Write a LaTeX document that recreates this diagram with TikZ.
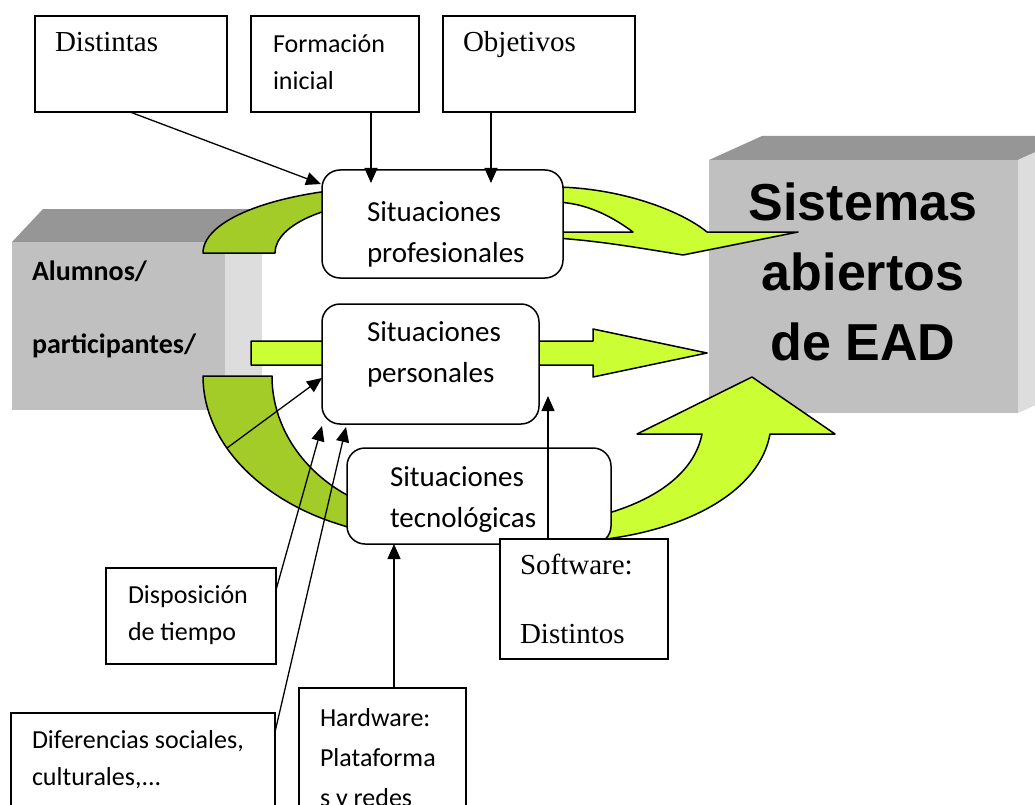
\documentclass[tikz,border=0pt]{standalone}
\usepackage{fontspec}
\setmainfont{Carlito}
\newfontfamily\serifface{Liberation Serif}
\newfontfamily\arialface{Liberation Sans}
\usetikzlibrary{arrows.meta}
\definecolor{limegreen}{HTML}{CCFF33}
\definecolor{olivegreen}{HTML}{A3CC29}
\definecolor{cubetop}{HTML}{969696}
\definecolor{cubefront}{HTML}{C0C0C0}
\definecolor{cubeside}{HTML}{DDDDDD}
\tikzstyle{box}=[draw, line width=1.5pt, fill=white, inner sep=0, outer sep=0, anchor=north west]
\tikzstyle{sitbox}=[box, rounded corners=18pt]
\tikzstyle{boxtext}=[anchor=base west, align=left, inner sep=0, outer sep=0]
\tikzstyle{smalltext}=[boxtext, font=\fontsize{26}{37}\selectfont]
\tikzstyle{sittext}=[boxtext, font=\fontsize{29}{41}\selectfont]
\tikzstyle{seriftext}=[boxtext, font=\serifface\fontsize{29}{69}\selectfont]
\tikzstyle{conn}=[-{Triangle[length=15pt,width=13pt]}, line width=1.3pt]
\tikzstyle{backarrow}=[fill=olivegreen, draw, line width=1.5pt, line join=round]
\tikzstyle{frontarrow}=[fill=limegreen, draw, line width=1.5pt, line join=round]
\newcommand{\boxnode}[5]{\node[#1, minimum width=#4pt, minimum height=#5pt] (#2) at (#3) {};}

\begin{document}
\begin{tikzpicture}[x=1pt, y=-1pt]
\useasboundingbox (0,0) rectangle (1035,805);

% cubes
\fill[cubetop] (12,242) -- (43,209) -- (262,209) -- (225,242) -- cycle;
\fill[cubefront] (12,242) rectangle (225,410);
\fill[cubeside] (225,242) -- (262,209) -- (262,377) -- (225,410) -- cycle;
\fill[cubetop] (709,160) -- (762,136) -- (1071,136) -- (1018,160) -- cycle;
\fill[cubefront] (709,160) rectangle (1018,413);
\fill[cubeside] (1018,160) -- (1071,136) -- (1071,389) -- (1018,413) -- cycle;

% curved arrows
\draw[backarrow] (203,253) .. controls (203,216) and (291,186.5) .. (400,186.5) -- (400,200.5) .. controls (331,200.5) and (275,224) .. (275,253) -- cycle;
\draw[frontarrow] (556,187) .. controls (620,188) and (680,210) .. (707,232) -- (798,232) -- (683,255) .. controls (640,248) and (600,241) .. (556,238) -- (556,232) -- (633,232) .. controls (610,215) and (585,203) .. (556,202) -- cycle;
\draw[frontarrow] (251,341) -- (593,341) -- (593,329) -- (707,353) -- (593,377) -- (593,365) -- (251,365) -- cycle;
\draw[backarrow] (203,376) -- (272,376) .. controls (272,453) and (343,516) .. (430,516) -- (430,538) .. controls (305,538) and (203,465) .. (203,376) -- cycle;
\draw[frontarrow] (598,516) .. controls (660,500) and (695,470) .. (702,434) -- (637,434) -- (752,377) -- (835,434) -- (770,434) .. controls (760,490) and (690,530) .. (598,540) -- cycle;

% boxes
\boxnode{box}{distintas}{35,16}{192}{96}
\boxnode{box}{formacion}{251,16}{168}{96}
\boxnode{box}{objetivos}{443,16}{192}{96}
\boxnode{sitbox}{prof}{322,170}{241}{108}
\boxnode{sitbox}{pers}{322,304}{217}{120}
\boxnode{sitbox}{tecno}{347,448}{264}{96}
\boxnode{box}{software}{500,539}{168}{120}
\boxnode{box}{disposicion}{106,568}{170}{96}
\boxnode{box}{diferencias}{11,713}{264}{120}
\boxnode{box}{hardware}{299,688}{167}{130}

% texts (base = last line)
\node[seriftext] (distintast) at (55,52) {Distintas};
\node[smalltext] (formaciont) at (273,90) {Formación\\inicial};
\node[seriftext] (objetivost) at (463,52) {Objetivos};
\node[sittext] (proft) at (367,262) {Situaciones\\profesionales};
\node[sittext] (perst) at (367,382) {Situaciones\\personales};
\node[sittext] (tecnot) at (390,527) {Situaciones\\tecnológicas};
\node[seriftext] (softwaret) at (520,643) {Software:\\Distintos};
\node[smalltext] (disposiciont) at (128,640) {Disposición\\de tiempo};
\node[smalltext] (diferenciast) at (32,785) {Diferencias sociales,\\culturales,...};
\node[boxtext, font=\fontsize{26}{40}\selectfont] (hardwaret) at (320,806) {Hardware:\\Plataforma\\s y redes};
\node[boxtext, font=\bfseries\fontsize{28}{73}\selectfont] (alumnost) at (32,353) {Alumnos/\\participantes/};
\node[anchor=base, align=center, inner sep=0, font=\arialface\bfseries\fontsize{52}{70}\selectfont] (sistemast) at (863,360) {Sistemas\\abiertos\\de EAD};

% connectors
\coordinate (arcfoot) at (227,448);
\draw[conn] ([xshift=95pt]distintas.south west) -- ([xshift=-1pt,yshift=-14pt]prof.north west);
\draw[conn] ([xshift=120pt]formacion.south west) -- ([xshift=49pt,yshift=-13pt]prof.north west);
\draw[conn] ([xshift=48pt]objetivos.south west) -- ([xshift=169pt,yshift=-13pt]prof.north west);
\draw[conn] (arcfoot) -- ([yshift=-74pt]pers.north west);
\draw[conn] ([yshift=-22pt]disposicion.north east) -- ([yshift=-2pt]pers.south west);
\draw[conn] ([yshift=-19pt]diferencias.north east) -- ([xshift=24pt,yshift=-3pt]pers.south west);
\draw[conn] ([xshift=95pt]hardware.north west) -- ([xshift=47pt]tecno.south west);
\draw[conn] ([xshift=48pt]software.north west) -- ([xshift=9pt,yshift=28pt]pers.south east);
\end{tikzpicture}
\end{document}
